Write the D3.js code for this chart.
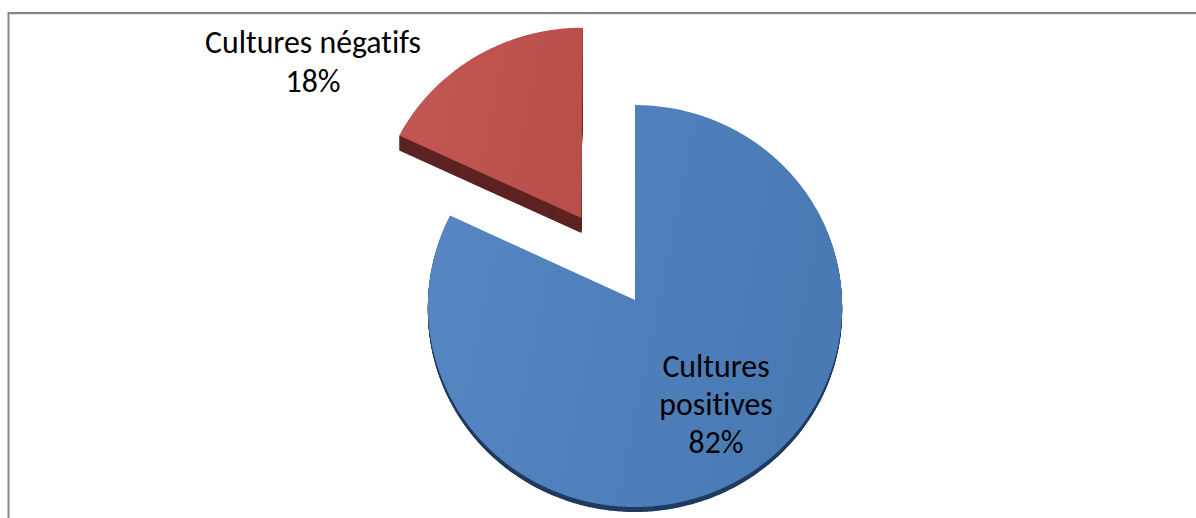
<!DOCTYPE html>
<html>
<head>
<meta charset="utf-8">
<script src="https://cdn.jsdelivr.net/npm/d3@7/dist/d3.min.js"></script>
<style>
  html, body { margin: 0; padding: 0; background: #fff; }
  svg { display: block; }
  text { font-family: Carlito, Calibri, Lato, "Open Sans", sans-serif; fill: #000; font-variant-ligatures: none; font-feature-settings: "liga" 0; }
</style>
</head>
<body>
<svg id="chart" width="1196" height="518"></svg>
<script>
// ---- data ----
const categories = ["Cultures positives", "Cultures négatifs"];
const values = [82, 18];
const labelLines = [["Cultures", "positives"], ["Cultures négatifs"]];

// ---- styles ----
const topColors = [["#5687c3", "#4a7ab4"], ["#c45753", "#b94f4b"]];
const sideColors = ["#203b60", "#5e2423"];
const depths = [5, 15];
const explode = [0, 0.49];

const svg = d3.select("#chart");
const W = 1196, H = 518;

// border (frame of chart area; right/bottom fall outside the view)
svg.append("path")
  .attr("d", `M8.5,${H + 2} L8.5,13 L${W + 2},13`)
  .attr("fill", "none").attr("stroke", "#868686").attr("stroke-width", 2);
svg.append("line").attr("x1", 10).attr("x2", W).attr("y1", 14.5).attr("y2", 14.5)
  .attr("stroke", "#e4e4e4").attr("stroke-width", 1);

const defs = svg.append("defs");
topColors.forEach((c, i) => {
  const g = defs.append("linearGradient").attr("id", "g" + i)
    .attr("x1", "0%").attr("y1", "0%").attr("x2", "100%").attr("y2", "20%");
  g.append("stop").attr("offset", "0%").attr("stop-color", c[0]);
  g.append("stop").attr("offset", "100%").attr("stop-color", c[1]);
});

// perspective projection of unit disc
const cx = 635, cy = 300, kx = 207, ky = 200.8, p = 0.03;
function proj(x, v) {
  const f = 1 + p * v;
  return [cx + kx * x / f, cy - ky * v / f];
}

const pie = d3.pie().sort(null).value(d => d)(values);
const line = d3.line().curve(d3.curveLinear);

function slicePoints(s, i) {
  const m = (s.startAngle + s.endAngle) / 2;
  const ox = explode[i] * Math.sin(m), ov = explode[i] * Math.cos(m);
  const pts = [proj(ox, ov)];
  const n = Math.max(8, Math.ceil((s.endAngle - s.startAngle) / 0.01));
  const a = d3.scaleLinear().domain([0, n]).range([s.startAngle, s.endAngle]);
  for (let k = 0; k <= n; k++) {
    const t = a(k);
    pts.push(proj(ox + Math.sin(t), ov + Math.cos(t)));
  }
  return pts;
}

const slices = svg.selectAll("g.slice").data(pie).join("g").attr("class", "slice");
slices.each(function(s, i) {
  const g = d3.select(this);
  const pts = slicePoints(s, i);
  const d = line(pts) + "Z";
  // extruded side
  for (let dy = depths[i]; dy >= 1; dy -= 0.5) {
    g.append("path").attr("d", d).attr("transform", `translate(0,${dy})`)
      .attr("fill", sideColors[i]);
  }
  g.append("path").attr("d", d).attr("fill", `url(#g${i})`);
});

// labels
const total = d3.sum(values);
const pct = values.map(v => Math.round(v / total * 100) + "%");
const labelPos = [[716, 377], [313, 53]];
const lh = [38, 39];

const labels = svg.selectAll("text.lbl").data(categories).join("text")
  .attr("class", "lbl").attr("text-anchor", "middle");
labels.each(function(c, i) {
  const t = d3.select(this);
  const lines = labelLines[i].concat([pct[i]]);
  lines.forEach((ln, j) => {
    t.append("tspan").attr("x", labelPos[i][0]).attr("y", labelPos[i][1] + j * lh[i]).text(ln);
  });
});

// fit font size so "Cultures négatifs" spans ~216px like the reference
labels.style("font-size", "30px");
const probe = svg.append("text").style("font-size", "30px").text(labelLines[1][0]);
const w = probe.node().getComputedTextLength();
probe.remove();
const fs = Math.min(32, 30 * 216 / w);
labels.style("font-size", fs + "px");
</script>
</body>
</html>
